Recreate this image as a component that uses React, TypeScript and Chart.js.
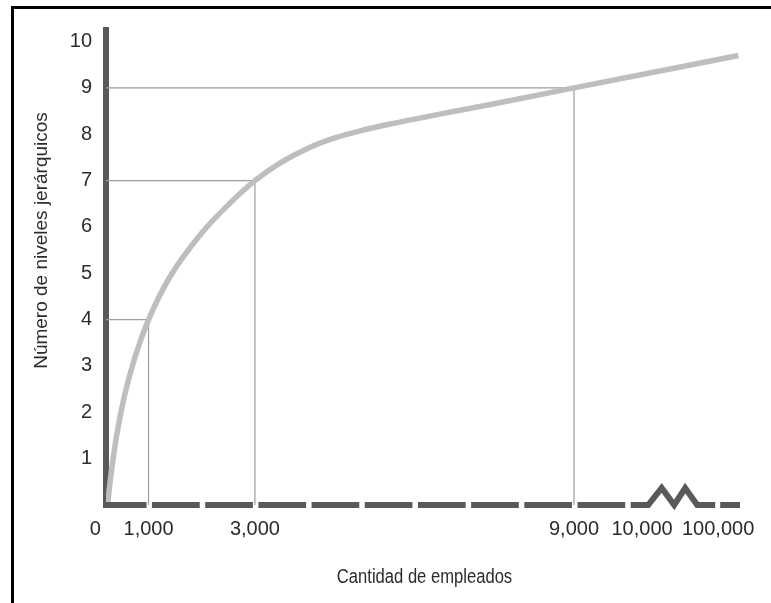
import React, { useEffect, useRef } from "react";
import { Chart, registerables } from "chart.js";

Chart.register(...registerables);

// ---- data ----
const employeeCounts = [235, 250, 300, 400, 550, 750, 1000, 1400, 2000, 2500, 3000, 3500, 4000, 4500, 5000, 5500, 6500, 7500, 9000, 185000];
const hierarchyLevels = [0.05, 0.22, 0.71, 1.5, 2.37, 3.21, 4, 4.92, 5.87, 6.48, 7, 7.4, 7.7, 7.92, 8.08, 8.21, 8.44, 8.66, 9, 9.7];

const guideEmployees = [1000, 3000, 9000];
const guideLevels = [4, 7, 9];

const xTickValues = [0, 1000, 3000, 9000, 10000, 100000];
const xTickLabels = ["0", "1,000", "3,000", "9,000", "10,000", "100,000"];
const yTickValues = [1, 2, 3, 4, 5, 6, 7, 8, 9, 10];

const xTitle = "Cantidad de empleados";
const yTitle = "Número de niveles jerárquicos";

// ---- styling / layout constants ----
const X_MIN = 200;
const X_MAX = 12140;
const Y_MIN = 0;
const Y_MAX = 10.25;
const AXIS_COLOR = "#58595b";
const CURVE_COLOR = "#bcbec0";
const GUIDE_COLOR = "#9d9d9d";
const TEXT_COLOR = "#2b2b2b";
const FONT = "'Liberation Sans', Arial, sans-serif";

// broken axis: linear up to 9,000, then compressed past the break
function axisPos(v: number): number {
  if (v <= 9000) return v;
  if (v <= 10000) return 9000 + (v - 9000) * 1.28;
  return 10280 + 1430 * Math.log10(v / 10000);
}

const axisDecor = {
  id: "axisDecor",
  afterDatasetsDraw(chart: any) {
    const { ctx, chartArea, scales } = chart;
    const x = scales.x;
    const y = scales.y;
    const yb = y.getPixelForValue(0);
    ctx.save();
    ctx.strokeStyle = AXIS_COLOR;
    ctx.lineWidth = 6;
    ctx.lineCap = "butt";
    ctx.lineJoin = "miter";
    const seg = (a: number, b: number) => {
      ctx.beginPath();
      ctx.moveTo(a, yb);
      ctx.lineTo(b, yb);
      ctx.stroke();
    };
    let start = chartArea.left - 3;
    for (let k = 1; k <= 10; k++) {
      const p = x.getPixelForValue(k * 1000);
      seg(start, p - 2);
      start = p + 3.5;
    }
    const p10 = x.getPixelForValue(10000);
    ctx.beginPath();
    ctx.moveTo(start, yb);
    ctx.lineTo(p10 + 21, yb);
    ctx.lineTo(p10 + 34.5, yb - 17);
    ctx.lineTo(p10 + 47, yb);
    ctx.lineTo(p10 + 58, yb - 17);
    ctx.lineTo(p10 + 70, yb);
    ctx.lineTo(p10 + 88, yb);
    ctx.stroke();
    seg(p10 + 93, chartArea.right - 1);
    ctx.restore();
  },
  afterDraw(chart: any) {
    const { ctx, chartArea } = chart;
    ctx.save();
    ctx.fillStyle = TEXT_COLOR;
    ctx.textAlign = "center";
    ctx.textBaseline = "middle";
    // y axis title
    ctx.save();
    ctx.translate(chartArea.left - 64, (chartArea.top + chartArea.bottom) / 2 - 27);
    ctx.rotate(-Math.PI / 2);
    ctx.font = `19px ${FONT}`;
    ctx.fillText(yTitle, 0, 0);
    ctx.restore();
    // x axis title (condensed face)
    ctx.save();
    ctx.translate((chartArea.left + chartArea.right) / 2 + 1, chartArea.bottom + 72);
    ctx.scale(0.83, 1);
    ctx.font = `20px ${FONT}`;
    ctx.fillText(xTitle, 0, 0);
    ctx.restore();
    ctx.restore();
  },
};

export default function App() {
  const canvasRef = useRef<HTMLCanvasElement | null>(null);

  useEffect(() => {
    document.body.style.overflow = "hidden";
    const canvas = canvasRef.current;
    if (!canvas) return;

    const curve = employeeCounts.map((e, i) => ({ x: axisPos(e), y: hierarchyLevels[i] }));
    const guides = guideEmployees.map((g, i) => ({
      type: "line" as const,
      data: [
        { x: X_MIN, y: guideLevels[i] },
        { x: axisPos(g), y: guideLevels[i] },
        { x: axisPos(g), y: 0 },
      ],
      borderColor: GUIDE_COLOR,
      borderWidth: 1.2,
      pointRadius: 0,
      tension: 0,
      fill: false,
    }));

    const chart = new Chart(canvas, {
      type: "line",
      data: {
        datasets: [
          {
            data: curve,
            borderColor: CURVE_COLOR,
            borderWidth: 5.5,
            pointRadius: 0,
            cubicInterpolationMode: "monotone",
            borderCapStyle: "butt",
            fill: false,
          },
          ...guides,
        ],
      },
      options: {
        animation: false,
        responsive: false,
        devicePixelRatio: 1,
        layout: { padding: { top: 30, right: 30, left: 0, bottom: 0 } },
        plugins: { legend: { display: false }, tooltip: { enabled: false } },
        scales: {
          x: {
            type: "linear",
            min: X_MIN,
            max: X_MAX,
            grid: { display: false, drawTicks: false },
            border: { display: false },
            afterBuildTicks: (scale: any) => {
              scale.ticks = xTickValues.map((v) => ({ value: axisPos(v) }));
            },
            afterFit: (scale: any) => {
              scale.height = 98;
            },
            ticks: {
              autoSkip: false,
              maxRotation: 0,
              padding: 12,
              color: TEXT_COLOR,
              font: { family: FONT, size: 20 },
              callback: (_v: any, i: number) => xTickLabels[i],
            },
            title: { display: false },
          },
          y: {
            type: "linear",
            min: Y_MIN,
            max: Y_MAX,
            grid: { display: false, drawTicks: false },
            border: { display: true, color: AXIS_COLOR, width: 6 },
            afterBuildTicks: (scale: any) => {
              scale.ticks = yTickValues.map((v) => ({ value: v }));
            },
            afterFit: (scale: any) => {
              scale.width = 106;
            },
            ticks: {
              padding: 14,
              color: TEXT_COLOR,
              font: { family: FONT, size: 20 },
            },
          },
        },
      },
      plugins: [axisDecor],
    } as any);

    return () => chart.destroy();
  }, []);

  return (
    <div style={{ position: "absolute", left: 0, top: 0, width: 771, height: 603, background: "#fff" }}>
      <div
        style={{
          position: "absolute",
          left: 11,
          top: 6,
          width: 760,
          height: 597,
          boxSizing: "border-box",
          borderTop: "3px solid #000",
          borderLeft: "3px solid #000",
        }}
      />
      <canvas ref={canvasRef} width={771} height={603} style={{ position: "absolute", left: 0, top: 0, width: 771, height: 603 }} />
    </div>
  );
}
